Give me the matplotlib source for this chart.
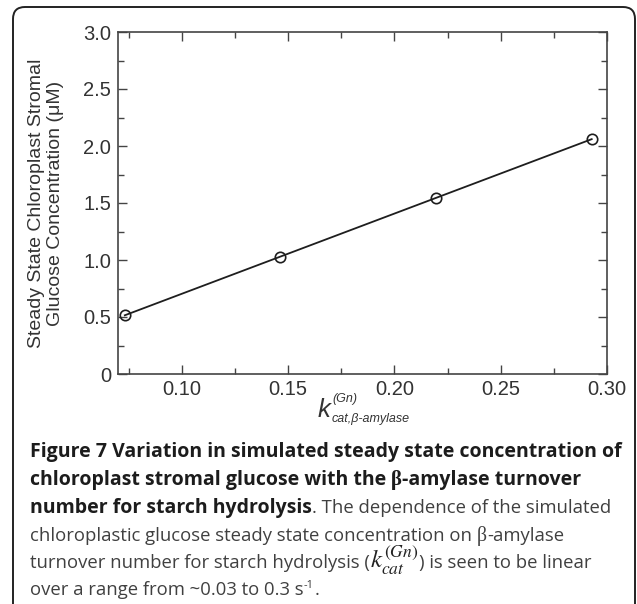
import matplotlib
matplotlib.use("Agg")
import matplotlib.pyplot as plt
from matplotlib.patches import FancyBboxPatch
from matplotlib.ticker import MultipleLocator
from matplotlib.transforms import IdentityTransform

# data
kcat = [0.0732, 0.1464, 0.2196, 0.2928]
glucose = [0.515, 1.030, 1.545, 2.060]

xticks = [0.10, 0.15, 0.20, 0.25, 0.30]
xtick_labels = ["0.10", "0.15", "0.20", "0.25", "0.30"]
yticks = [0, 0.5, 1.0, 1.5, 2.0, 2.5, 3.0]
ytick_labels = ["0", "0.5", "1.0", "1.5", "2.0", "2.5", "3.0"]

ylabel = "Steady State Chloroplast Stromal\nGlucose Concentration (\u03bcM)"

W, H = 637, 604
plt.rcParams["font.family"] = ["Liberation Sans", "DejaVu Sans"]

fig = plt.figure(figsize=(W / 100, H / 100), dpi=100)
renderer = fig.canvas.get_renderer()


def px(x, y):
    # pixel from top-left -> figure fraction
    return x / W, 1 - y / H


# rounded frame around figure + caption
frame = FancyBboxPatch((13, -20), 622, 617, boxstyle="round,pad=0,rounding_size=12",
                       transform=IdentityTransform(), fill=False, ec="#222222", lw=1.4)
fig.patches.append(frame)

ax = fig.add_axes([118 / W, 1 - 374 / H, (607 - 118) / W, (374 - 32) / H])
ax.plot(kcat, glucose, color="#1e1e1e", lw=1.3, marker="o", ms=7.5,
        mfc="none", mec="#1e1e1e", mew=1.2, clip_on=False)
ax.set_xlim(0.07, 0.30)
ax.set_ylim(0, 3.0)
ax.set_xticks(xticks, xtick_labels)
ax.set_yticks(yticks, ytick_labels)
ax.xaxis.set_minor_locator(MultipleLocator(0.025))
ax.yaxis.set_minor_locator(MultipleLocator(0.25))
ax.tick_params(which="both", direction="in", top=True, right=True, color="#444444")
ax.tick_params(which="major", length=6.5, width=1.0, labelsize=14.5, labelcolor="#333333")
ax.tick_params(which="minor", length=4, width=1.0)
ax.tick_params(axis="x", pad=4)
ax.tick_params(axis="y", pad=5)
for sp in ax.spines.values():
    sp.set_color("#444444")
    sp.set_linewidth(1.2)

fig.text(*px(46, 203), ylabel, rotation=90, ha="center", va="center",
         fontsize=14, color="#333333", multialignment="center")

# x label: big italic k with small scripts
lab_c = "#333333"
fig.text(*px(318, 417), "k", fontsize=18.5, style="italic", color=lab_c, va="baseline")
fig.text(*px(332, 402), "(Gn)", fontsize=9, style="italic", color=lab_c, va="baseline")
fig.text(*px(332, 422), "cat,\u03b2-amylase", fontsize=9, style="italic", color=lab_c, va="baseline")

# caption
CAP = ["Open Sans", "DejaVu Sans"]
SERIF = ["Liberation Serif", "DejaVu Serif"]
bold_c, norm_c = "#1c1c1c", "#404040"


def width_of(s, **kw):
    t = fig.text(0, 0, s, **kw)
    w = t.get_window_extent(renderer).width
    t.remove()
    return w


# fit caption sizes to the reference line widths
base = 12
bsize = base * 590 / width_of("Figure 7 Variation in simulated steady state concentration of",
                              family=CAP, fontweight="bold", fontsize=base)
nsize = base * 532 / width_of("chloroplastic glucose steady state concentration on \u03b2-amylase",
                              family=CAP, fontsize=base)

styles = {
    "B": dict(family=CAP, fontweight="bold", color=bold_c, fontsize=bsize),
    "Bs": dict(family=SERIF, fontweight="bold", color=bold_c, fontsize=bsize + 1),
    "N": dict(family=CAP, fontweight="normal", color=norm_c, fontsize=nsize),
    "Ns": dict(family=SERIF, fontweight="normal", color=norm_c, fontsize=nsize + 1),
    "M": dict(family=SERIF, color="#222222", fontsize=nsize * 1.35, math_fontfamily="stix"),
    "sup": dict(family=CAP, color=norm_c, fontsize=nsize * 0.6),
}


def space(st):
    return width_of("a a", **styles[st]) - width_of("aa", **styles[st])


lines = [
    [("Figure 7 Variation in simulated steady state concentration of", "B")],
    [("chloroplast stromal glucose with the", "B"), (" ", "B"), ("\u03b2", "Bs"), ("-amylase turnover", "B")],
    [("number for starch hydrolysis", "B"), (". The dependence of the simulated", "N")],
    [("chloroplastic glucose steady state concentration on", "N"), (" ", "N"), ("\u03b2", "Ns"), ("-amylase", "N")],
    [("turnover number for starch hydrolysis (", "N"), (r"$k_{cat}^{(Gn)}$", "M"), (") is seen to be linear", "N")],
    [("over a range from ~0.03 to 0.3 s", "N"), ("-1", "sup"), (".", "N")],
]
baselines = [457, 485, 513, 541, 568, 595]

for pieces, yb in zip(lines, baselines):
    x = 30
    for s, st in pieces:
        if s == " ":
            x += space(st)
            continue
        dy = -7 if st == "sup" else 0
        t = fig.text(*px(x, yb + dy), s, ha="left", va="baseline", **styles[st])
        bb = t.get_window_extent(renderer)
        x = bb.x1 + (1 if st in ("M", "sup") else 0)

fig.savefig("out.png", dpi=100)
